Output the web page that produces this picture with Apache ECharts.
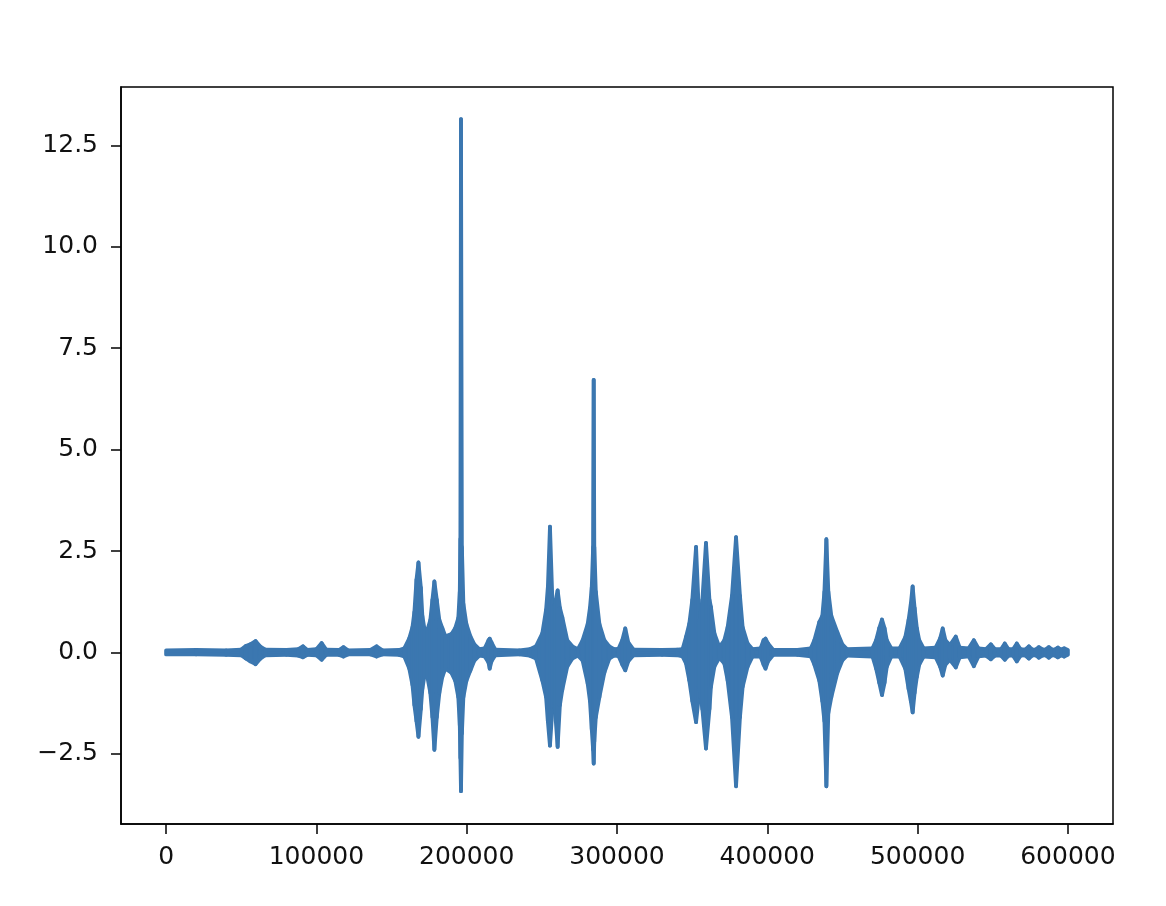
<!DOCTYPE html>
<html>
<head>
<meta charset="utf-8">
<script src="https://cdn.jsdelivr.net/npm/echarts@6/dist/echarts.min.js"></script>
<style>
html,body{margin:0;padding:0;background:#fff;}
#chart{width:1166px;height:906px;}
</style>
</head>
<body>
<div id="chart"></div>
<script>
// Envelope of the waveform: sample index, upper extreme, lower extreme
const envX = [0,20000,40000,50000,53000,56000,59500,62500,66000,80000,88000,91000,94000,100000,103500,106500,115000,118000,121000,136000,140000,144000,155000,
158500,161800,163900,165200,166600,167900,169500,170500,171800,173800,175800,177200,178500,180100,181800,183800,185800,189800,192400,194400,195400,195800,196200,196800,197800,199800,202400,205100,208400,
212000,214500,215300,216500,219000,235000,242000,
246100,250300,252800,254000,255400,257000,258300,259300,260500,262000,263600,266900,270300,274000,
277100,280500,282000,283200,284100,284500,284900,285900,288300,291600,294900,298000,
301000,303500,305500,307500,311000,330000,340000,
343600,345900,348100,350100,352600,354100,354800,356800,359200,361500,362500,364800,368100,
371400,373600,376500,379200,381800,383600,386900,390200,
395500,397500,398800,400500,404000,420000,
429000,431300,434600,436600,438000,439300,440600,442600,446600,449900,453000,
470000,472400,474500,476300,478000,479500,482500,
488000,491800,494000,495500,496700,498000,499500,501100,504000,
512000,515000,516700,518500,521500,525400,528000,534000,537400,540500,545500,548700,551500,555500,558000,560500,563500,566000,568500,
571500,574000,576500,578500,580700,583500,585000,587300,589500,591000,593300,595500,597500,600000];
const envHigh = [0.05,0.06,0.05,0.07,0.16,0.2,0.28,0.15,0.07,0.06,0.08,0.15,0.06,0.08,0.23,0.07,0.06,0.13,0.05,0.06,0.15,0.05,0.06,
0.1,0.35,0.62,1.0,1.8,2.22,1.6,0.9,0.6,0.55,0.8,1.3,1.75,1.3,0.8,0.6,0.4,0.45,0.6,0.85,1.5,2.8,13.15,2.6,1.2,0.7,0.4,0.2,0.08,
0.1,0.3,0.34,0.25,0.07,0.05,0.08,
0.15,0.47,1.05,1.6,3.1,1.3,1.12,1.3,1.53,1.1,0.87,0.3,0.15,0.08,
0.3,0.7,1.1,1.6,2.6,6.72,2.6,1.5,0.7,0.3,0.15,0.08,
0.09,0.3,0.59,0.25,0.07,0.06,0.07,
0.08,0.38,0.71,1.3,2.6,1.3,0.71,1.3,2.7,1.3,1.12,0.47,0.13,
0.3,0.62,1.4,2.84,1.4,0.62,0.22,0.08,
0.1,0.3,0.34,0.22,0.06,0.06,
0.1,0.3,0.75,0.9,1.5,2.79,1.5,0.9,0.5,0.2,0.08,
0.1,0.3,0.6,0.81,0.6,0.3,0.1,
0.1,0.38,0.8,1.2,1.63,1.1,0.6,0.3,0.1,
0.12,0.35,0.59,0.3,0.18,0.39,0.12,0.1,0.3,0.1,0.08,0.2,0.08,0.08,0.22,0.08,0.08,0.22,0.08,
0.07,0.15,0.07,0.07,0.13,0.07,0.07,0.13,0.07,0.07,0.12,0.07,0.1,0.06];
const envLow = [-0.05,-0.05,-0.06,-0.07,-0.15,-0.22,-0.29,-0.16,-0.07,-0.06,-0.08,-0.12,-0.06,-0.07,-0.18,-0.06,-0.06,-0.1,-0.05,-0.05,-0.1,-0.05,-0.06,
-0.1,-0.4,-0.8,-1.3,-1.7,-2.08,-1.4,-0.9,-0.6,-0.6,-1.0,-1.6,-2.4,-1.6,-1.0,-0.6,-0.4,-0.5,-0.7,-1.1,-1.8,-2.6,-3.42,-2.0,-1.1,-0.7,-0.45,-0.2,-0.08,
-0.1,-0.25,-0.4,-0.22,-0.07,-0.05,-0.08,
-0.15,-0.69,-1.1,-1.7,-2.3,-1.4,-1.2,-1.7,-2.33,-1.3,-0.92,-0.35,-0.15,-0.08,
-0.2,-0.77,-1.2,-1.9,-2.4,-2.74,-2.2,-1.6,-1.1,-0.5,-0.15,-0.08,
-0.09,-0.3,-0.44,-0.22,-0.07,-0.06,-0.07,
-0.1,-0.27,-0.69,-1.2,-1.72,-1.2,-0.85,-1.4,-2.37,-1.4,-0.85,-0.35,-0.13,
-0.27,-0.69,-1.6,-3.3,-1.6,-0.85,-0.35,-0.1,
-0.1,-0.3,-0.4,-0.22,-0.06,-0.06,
-0.1,-0.3,-0.7,-1.2,-1.7,-3.3,-1.5,-1.1,-0.5,-0.2,-0.08,
-0.1,-0.4,-0.75,-1.05,-0.75,-0.35,-0.1,
-0.1,-0.4,-0.9,-1.2,-1.48,-1.0,-0.6,-0.3,-0.1,
-0.12,-0.35,-0.57,-0.3,-0.18,-0.37,-0.12,-0.1,-0.34,-0.1,-0.08,-0.17,-0.08,-0.08,-0.18,-0.08,-0.08,-0.22,-0.08,
-0.07,-0.15,-0.07,-0.07,-0.13,-0.07,-0.07,-0.13,-0.07,-0.07,-0.12,-0.07,-0.1,-0.06];
const xTickValues = [0,100000,200000,300000,400000,500000,600000];
const yTickValues = [-2.5,0,2.5,5,7.5,10,12.5];

const LINE = '#3b77b0';
const chart = echarts.init(document.getElementById('chart'), null, {renderer:'canvas'});
const n = Math.min(envX.length, envHigh.length, envLow.length);
const segData = [];
for (let i = 0; i < n - 1; i++) {
  segData.push([envX[i], envHigh[i], envLow[i], envX[i+1], envHigh[i+1], envLow[i+1]]);
}
const font = {fontFamily:'DejaVu Sans', fontSize:25, color:'#111'};
chart.setOption({
  animation:false,
  backgroundColor:'#fff',
  grid:{left:121, top:87, right:53, bottom:82, show:true, borderColor:'#000', borderWidth:1.5, backgroundColor:'transparent', containLabel:false},
  xAxis:{type:'value', min:-30000, max:630000,
    axisLine:{show:true, onZero:false, lineStyle:{color:'#000', width:1.5}},
    axisTick:{show:true, inside:false, length:10, customValues:xTickValues, lineStyle:{color:'#000', width:1.5}},
    axisLabel:{show:true, margin:21, customValues:xTickValues, formatter:v=>String(Math.round(v)), ...font},
    splitLine:{show:false}},
  yAxis:{type:'value', min:-4.23, max:13.94,
    axisLine:{show:true, onZero:false, lineStyle:{color:'#000', width:1.5}},
    axisTick:{show:true, inside:false, length:10, customValues:yTickValues, lineStyle:{color:'#000', width:1.5}},
    axisLabel:{show:true, margin:23, customValues:yTickValues, formatter:v=>(v<0?'\u2212':'')+Math.abs(v).toFixed(1), ...font},
    splitLine:{show:false}},
  series:[{
    type:'custom',
    name:'signal',
    data:segData,
    dimensions:['x0','h0','l0','x1','h1','l1'],
    encode:{x:[0,3], y:[1,2,4,5]},
    renderItem:function(params, api){
      const a = api.coord([api.value(0), api.value(1)]);
      const b = api.coord([api.value(3), api.value(4)]);
      const c = api.coord([api.value(3), api.value(5)]);
      const d = api.coord([api.value(0), api.value(2)]);
      return {type:'polygon', shape:{points:[a,b,c,d]},
        style:{fill:LINE, stroke:LINE, lineWidth:3.8, lineJoin:'round', lineCap:'round'}};
    }
  }]
});
</script>
</body>
</html>
